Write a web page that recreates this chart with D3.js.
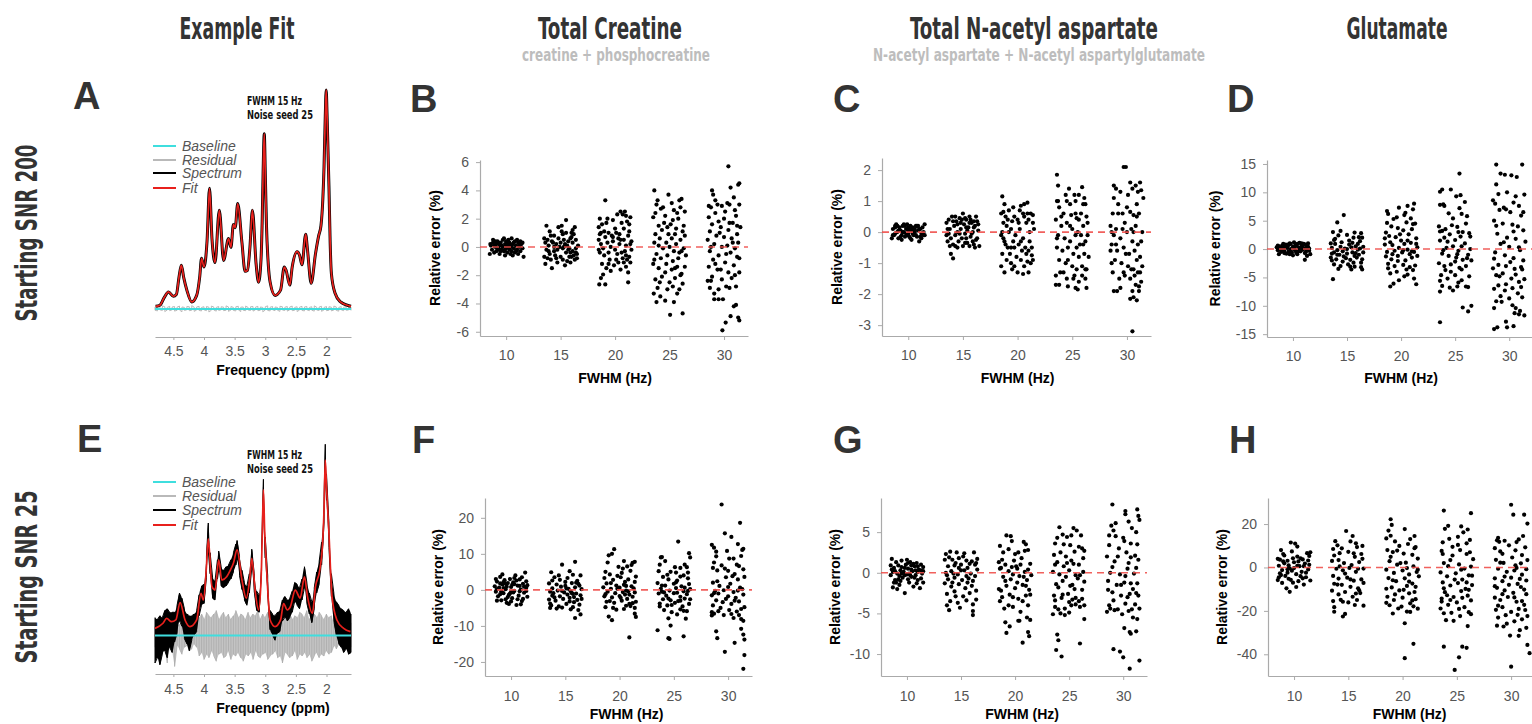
<!DOCTYPE html>
<html>
<head>
<meta charset="utf-8">
<script src="https://cdn.jsdelivr.net/npm/d3@7"></script>
<style>
  body { margin: 0; background: #fff; }
  svg text { font-family: 'Liberation Sans', Arial, sans-serif; }
</style>
</head>
<body>
<svg id="fig" width="1532" height="724"></svg>
<script>
// ---------------------------------------------------------------
// Labels
// ---------------------------------------------------------------
const columnTitles = ["Example Fit", "Total Creatine", "Total N-acetyl aspartate", "Glutamate"];
const columnSubtitles = ["", "creatine + phosphocreatine", "N-acetyl aspartate + N-acetyl aspartylglutamate", ""];
const rowLabels = ["Starting SNR 200", "Starting SNR 25"];
const panelLetters = ["A", "B", "C", "D", "E", "F", "G", "H"];
const fitNote = ["FWHM 15 Hz", "Noise seed 25"];
const legendLabels = ["Baseline", "Residual", "Spectrum", "Fit"];

// ---------------------------------------------------------------
// Example spectra (ppm, intensity; 2.0 ppm peak of the fit = 100)
// ---------------------------------------------------------------
const ppmTicks = [4.5, 4, 3.5, 3, 2.5, 2];

const fitSnr200 = [[4.79,1],[4.72,1.5],[4.65,5],[4.58,7.6],[4.50,5.6],[4.45,6.5],[4.41,14],[4.37,19.8],[4.33,14],[4.28,8.4],[4.20,3],[4.12,6],[4.07,14.5],[4.04,23],[4.00,19],[3.95,31],[3.91,55],[3.87,32],[3.82,21],[3.75,45],[3.68,22],[3.60,32],[3.56,28],[3.52,38.5],[3.49,37],[3.45,48],[3.38,30],[3.33,17],[3.29,17.5],[3.25,28],[3.21,45],[3.15,20.6],[3.11,12],[3.07,22],[3.05,40],[3.035,62],[3.016,80],[2.998,60],[2.98,38],[2.95,20],[2.92,12],[2.84,6],[2.75,8.4],[2.69,19],[2.66,17.5],[2.60,10.7],[2.56,19],[2.48,26],[2.44,24.4],[2.40,20],[2.34,34],[2.31,26.7],[2.25,11.5],[2.18,25],[2.13,33],[2.09,38],[2.06,50],[2.04,65],[2.02,88],[2.005,100],[1.99,88],[1.96,56],[1.94,30],[1.92,16],[1.86,7],[1.77,3],[1.66,1.5],[1.60,1]];

// residual of the SNR 200 fit, sampled every 0.04 ppm from 4.80 to 1.60
const residualSnr200Hi = [0.7,0.9,0.6,1.2,0.8,0.5,1.0,0.7,0.9,0.6,1.1,0.7,0.5,0.9,0.8,1.3,0.6,0.7,1.0,0.5,0.8,0.9,0.6,1.1,0.7,0.5,0.9,0.8,0.6,1.2,0.7,0.9,0.5,0.8,1.0,0.6,0.7,1.1,0.5,0.8,0.9,0.6,1.0,0.7,0.5,0.8,1.2,0.6,0.9,0.7,0.5,1.0,0.8,0.6,0.9,0.7,1.1,0.5,0.8,0.6,1.0,0.7,0.9,0.5,0.8,1.2,0.6,0.7,1.0,0.5,0.9,0.8,0.6,1.1,0.7,0.5,0.9,0.6,0.8,0.7,0.6];
const residualSnr200Lo = [-0.8,-1.1,-0.6,-0.9,-1.4,-0.7,-1.0,-0.6,-1.2,-0.8,-0.7,-1.5,-0.9,-0.6,-1.0,-0.8,-1.3,-0.7,-0.9,-1.1,-0.6,-1.0,-1.6,-0.8,-0.7,-1.2,-0.9,-0.6,-1.0,-0.8,-1.3,-0.7,-0.9,-1.1,-0.6,-1.4,-0.8,-1.0,-0.7,-0.9,-1.2,-0.6,-1.0,-0.8,-1.5,-0.7,-0.9,-1.1,-0.6,-1.0,-0.8,-1.3,-0.7,-0.9,-1.2,-0.6,-1.0,-0.8,-1.4,-0.7,-0.9,-1.1,-0.6,-1.0,-0.8,-1.2,-0.7,-0.9,-1.3,-0.6,-1.0,-0.8,-1.1,-0.7,-0.9,-1.2,-0.6,-1.0,-0.8,-0.7,-0.9];

const fitSnr25 = [[4.80,3.8],[4.67,6.7],[4.61,9.5],[4.53,7.6],[4.46,8.6],[4.39,18.5],[4.31,8.6],[4.23,4.8],[4.12,8.6],[4.05,23.8],[4.01,20],[3.96,39],[3.93,55],[3.87,27.6],[3.82,25.7],[3.76,42.9],[3.71,31.4],[3.63,33.3],[3.57,37.1],[3.52,41],[3.46,48.6],[3.38,31.4],[3.31,21],[3.25,33.3],[3.22,43.8],[3.16,23.8],[3.11,14.3],[3.07,30],[3.05,55],[3.03,82.9],[3.01,60],[2.98,39],[2.92,8.6],[2.84,4.8],[2.75,8.6],[2.70,18],[2.64,14.3],[2.59,16.2],[2.51,25.7],[2.45,21.9],[2.43,21],[2.36,33.3],[2.31,21.9],[2.23,12.4],[2.18,27.6],[2.11,37.1],[2.06,54.3],[2.04,72],[2.02,100],[2.00,85],[1.96,58],[1.91,21.9],[1.83,8.6],[1.72,3.8],[1.61,1.9]];

// noisy SNR 25 spectrum: [ppm, lower edge, upper edge]
const spectrumSnr25 = [[4.80,-16,10],[4.76,-13,9],[4.72,-17,11],[4.68,-11,10],[4.64,-9,14],[4.60,-13,15],[4.56,-7,13],[4.52,-10,13],[4.48,-4,13],[4.44,1,17],[4.40,8,24],[4.36,5,21],[4.32,-2,15],[4.28,-5,12],[4.24,-9,11],[4.20,-3,11],[4.16,0,12],[4.12,2,14],[4.08,11,23],[4.04,17,28],[4.00,18,29],[3.96,33,45],[3.93,48,64],[3.90,35,47],[3.86,21,33],[3.82,20,31],[3.78,32,43],[3.76,37,48],[3.72,28,39],[3.68,27,37],[3.64,28,39],[3.60,30,40],[3.56,32,43],[3.52,36,47],[3.48,40,52],[3.46,43,54],[3.42,34,45],[3.38,26,37],[3.34,20,30],[3.30,17,28],[3.26,24,35],[3.22,38,49],[3.18,25,35],[3.14,14,25],[3.10,13,23],[3.06,37,48],[3.03,75,89],[3.00,44,56],[2.96,23,34],[2.92,3,14],[2.88,0,12],[2.84,-3,11],[2.80,1,13],[2.76,2,14],[2.72,8,20],[2.68,10,22],[2.64,8,20],[2.60,10,21],[2.56,13,25],[2.52,19,30],[2.48,17,29],[2.44,15,27],[2.40,20,32],[2.36,27,39],[2.32,18,30],[2.28,12,24],[2.24,7,19],[2.20,15,27],[2.16,24,36],[2.12,29,42],[2.08,40,53],[2.04,64,79],[2.02,92,109],[2.00,77,92],[1.96,50,64],[1.92,22,35],[1.88,8,24],[1.84,0,19],[1.80,-5,17],[1.76,-7,15],[1.72,-10,14],[1.68,-8,13],[1.64,-11,15],[1.60,-10,12]];

// residual of the SNR 25 fit, sampled every 0.04 ppm from 4.80 to 1.60
const residualSnr25Hi = [5,7,4,6,8,5,6,4,7,5,6,8,4,6,5,7,5,6,10,12,9,13,11,10,12,14,9,11,13,10,12,9,11,14,10,12,11,9,13,10,12,11,14,9,12,10,13,11,10,12,9,14,11,10,13,12,9,11,10,13,12,10,14,9,11,12,10,13,11,9,12,10,11,7,5,8,6,7,5,6,7];
const residualSnr25Lo = [-7,-6,-10,-8,-5,-16,-7,-9,-18,-6,-8,-11,-7,-6,-9,-8,-5,-7,-12,-10,-14,-11,-13,-9,-12,-15,-11,-10,-13,-12,-9,-14,-11,-12,-10,-13,-15,-11,-12,-10,-14,-9,-12,-13,-11,-10,-14,-12,-11,-9,-13,-12,-16,-10,-11,-13,-12,-9,-14,-11,-12,-10,-13,-11,-15,-12,-10,-13,-11,-12,-9,-11,-10,-6,-8,-5,-7,-9,-6,-8,-7];

// ---------------------------------------------------------------
// Relative errors (%) per FWHM level: [jitter (Hz), error]
// ---------------------------------------------------------------
const fwhmLevels = [10, 15, 20, 25, 30];

const tcrTicks200 = [-6, -4, -2, 0, 2, 4, 6];
const tcrSnr200 = [
  [[-1.4,0.1],[-1.3,-0.2],[-1.2,0.3],[-1.1,-0.4],[-1.0,0.0],[-0.9,0.2],[-0.9,-0.3],[-0.8,0.4],[-0.7,-0.1],[-0.6,0.1],[-0.6,-0.5],[-0.5,0.3],[-0.4,-0.2],[-0.3,0.5],[-0.3,0.0],[-0.2,-0.3],[-0.1,0.2],[0.0,-0.1],[0.0,0.4],[0.1,-0.4],[0.2,0.1],[0.3,-0.2],[0.3,0.3],[0.4,0.0],[0.5,0.6],[0.5,-0.3],[0.6,0.2],[0.7,-0.1],[0.8,0.4],[0.8,-0.4],[0.9,0.1],[1.0,-0.2],[1.1,0.3],[1.2,0.0],[1.3,-0.3],[1.4,0.2],[1.5,-0.1],[1.6,-0.7],[-1.5,-0.5],[-0.2,0.6],[0.6,-0.6],[1.0,0.5],[-0.8,-0.1],[0.2,0.5],[-0.5,-0.3],[1.3,0.4],[-1.2,0.5],[0.4,-0.5],[-0.1,-0.6],[1.1,-0.5]],
  [[-1.3,1.5],[0.1,1.5],[0.5,1.9],[-0.2,1.4],[1.3,1.4],[1.0,1.0],[1.1,1.2],[-0.9,0.8],[-0.6,0.8],[0.2,0.9],[0.5,1.0],[0.9,0.6],[-1.5,0.6],[-1.2,0.5],[-0.7,0.3],[-0.4,0.2],[0.0,0.3],[0.4,0.2],[0.8,-0.1],[1.1,-0.3],[1.4,-0.4],[1.5,-0.5],[1.0,-0.7],[0.5,-0.4],[-1.3,-0.2],[-1.0,-0.5],[-0.6,-0.3],[-1.5,-0.7],[-1.4,-1.2],[-0.8,-1.5],[-0.3,-1.1],[0.4,-1.3],[0.9,-1.1],[1.3,-0.9],[1.5,-0.8],[0.2,-0.9],[-0.9,-0.9],[0.0,-0.7],[0.8,-0.7],[1.1,0.3],[-0.6,0.0],[-1.1,0.1],[-0.3,-0.2],[0.2,-0.1],[1.6,0.1],[1.4,0.5],[-1.0,1.1],[0.7,0.4],[-0.2,0.6],[1.2,-0.6],[0.6,-1.0],[-1.2,-0.8],[0.3,0.0],[-0.5,-0.6],[1.0,0.7]],
  [[-0.9,3.3],[-1.45,-2.65],[-0.9,-2.65],[1.2,-2.5],[-1.3,-2.2],[-1.1,-1.95],[-1.4,2.0],[-1.2,1.6],[-1.5,1.4],[-0.8,1.7],[-0.2,1.9],[0.2,2.3],[0.5,2.5],[0.7,2.3],[0.9,2.5],[1.1,1.8],[1.3,1.6],[1.4,2.1],[-1.0,1.1],[-0.6,1.0],[-0.3,0.8],[0.1,1.0],[0.4,0.9],[0.3,0.6],[0.8,0.5],[1.2,0.8],[1.5,0.4],[-1.5,0.5],[-1.3,0.2],[-0.7,0.3],[-0.4,0.0],[0.0,-0.2],[0.6,-0.4],[1.0,-0.6],[1.3,-0.7],[1.1,-0.9],[0.7,-0.8],[-1.4,-0.4],[-1.0,-0.6],[-0.5,-0.9],[0.2,-0.5],[0.9,-0.3],[1.4,-1.1],[-1.2,-1.2],[-0.8,-1.5],[-0.1,-1.3],[0.5,-1.6],[1.0,-1.4],[-0.4,-1.7],[1.2,-1.8],[-1.5,-0.2],[0.4,0.2],[-0.2,0.4],[0.8,1.3],[-0.6,-0.4],[1.5,-0.2],[0.1,-0.9],[-0.9,0.7]],
  [[-1.4,4.0],[-0.1,3.7],[1.1,3.4],[0.9,3.3],[-1.2,3.0],[-0.8,2.7],[-0.6,2.8],[0.4,2.6],[1.0,2.8],[-1.3,2.4],[-0.4,2.2],[0.3,1.9],[0.8,2.0],[1.3,1.5],[-1.5,2.1],[-1.0,1.5],[-0.7,1.2],[-0.2,1.4],[0.1,1.6],[0.6,1.3],[1.2,1.1],[1.4,0.8],[-1.3,0.9],[-0.9,0.6],[-0.3,0.3],[0.2,0.6],[0.5,0.9],[1.0,0.5],[-1.4,0.3],[-0.6,-0.1],[0.0,0.0],[0.4,-0.3],[0.9,-0.4],[1.3,-0.1],[-1.2,-0.5],[-0.8,-0.8],[-0.2,-0.6],[0.3,-1.0],[0.8,-0.8],[1.5,-0.6],[-1.5,-1.2],[-1.0,-1.5],[-0.4,-1.8],[0.2,-1.6],[0.7,-1.4],[1.1,-1.9],[-1.3,-2.3],[-0.7,-2.1],[0.0,-2.5],[0.5,-2.2],[1.2,-2.6],[-1.1,-2.9],[-0.2,-3.0],[0.9,-3.0],[-0.85,-3.5],[-0.4,-3.8],[0.4,-3.9],[0.05,-4.8],[1.2,-4.7],[-1.45,-3.3]],
  [[0.4,5.7],[1.4,4.5],[1.3,4.4],[0.6,4.2],[-1.1,4.0],[-1.0,3.7],[0.3,3.1],[0.5,3.0],[-0.6,3.0],[-0.2,2.9],[1.4,3.0],[-1.2,2.8],[-0.8,2.4],[0.1,2.5],[1.1,2.2],[-1.4,2.1],[-0.5,1.8],[0.8,1.7],[1.2,1.5],[-1.1,1.6],[-0.3,1.4],[0.4,1.2],[1.5,1.4],[-1.3,1.1],[-0.7,0.8],[0.0,0.7],[0.7,0.6],[1.3,0.3],[-1.5,0.5],[-0.9,0.2],[-0.2,0.0],[0.3,0.1],[1.0,-0.1],[-1.3,-0.3],[-0.5,-0.6],[0.6,-0.4],[1.2,-0.7],[-1.0,-0.9],[0.1,-1.1],[0.9,-1.3],[-1.4,-1.4],[-0.6,-1.6],[0.4,-1.8],[1.4,-1.8],[-1.1,-2.1],[-0.2,-2.3],[0.7,-2.2],[-1.5,-2.4],[-1.2,-2.4],[0.2,-2.8],[1.1,-2.8],[-0.5,-3.0],[-0.5,-3.7],[-0.1,-3.7],[1.1,-4.1],[0.6,-4.9],[1.4,-5.2],[0.15,-5.35],[-0.15,-5.9],[-0.9,-3.3]]
];
const tcrSnr200More = [
  [[-1.45,0.2],[-1.1,0.1],[-0.7,0.3],[-0.4,0.1],[-0.1,-0.2],[0.1,0.3],[0.5,0.1],[0.7,0.3],[0.9,-0.3],[1.2,0.2],[-0.6,-0.2],[0.3,-0.1],[1.5,0.3],[-1.0,0.4],[0.0,0.1]],
  [[-1.4,0.3],[-0.8,0.4],[-0.1,0.0],[0.3,0.5],[0.6,0.1],[0.9,-0.4],[1.2,0.9],[-0.4,-0.8],[-1.1,-0.3],[0.7,-0.2],[1.4,-0.1],[0.1,1.1]],
  [[-1.3,1.0],[-0.7,2.0],[0.0,1.3],[0.6,1.7],[1.3,1.1],[-1.1,-0.1],[-0.2,0.7],[0.5,0.5],[1.0,0.1],[-0.6,-1.2],[0.3,-1.1],[0.8,-1.1],[1.4,0.2],[-1.4,0.9],[1.0,2.2]],
  [[-1.1,3.3],[0.2,3.1],[1.4,2.5],[-0.5,1.7],[0.7,2.4],[-1.0,0.1],[-0.1,0.9],[0.6,0.2],[1.1,-0.3],[-1.4,-0.9],[-0.3,-1.2],[0.5,-1.5],[1.4,-1.4],[-0.9,-2.5],[0.3,-2.8],[1.0,-2.0],[-1.2,-3.9],[0.7,-3.3]],
  [[-0.8,3.3],[0.9,3.5],[-1.4,2.9],[0.0,2.0],[1.0,2.6],[-0.4,1.0],[0.5,1.7],[1.2,0.9],[-1.2,0.0],[0.2,-0.5],[0.8,0.3],[-0.8,-1.2],[1.4,-0.8],[-0.3,-1.6],[1.0,-2.0],[-1.3,-2.9],[0.5,-2.9],[-0.9,-3.7],[0.9,-4.2],[1.3,-5.0]]
];

const naaTicks200 = [-3, -2, -1, 0, 1, 2];
const naaSnr200 = [
  [[-1.4,0.1],[-1.3,-0.1],[-1.2,0.2],[-1.0,0.0],[-0.9,-0.2],[-0.8,0.15],[-0.7,0.05],[-0.6,-0.1],[-0.5,0.2],[-0.4,0.0],[-0.3,-0.15],[-0.2,0.1],[-0.1,0.25],[0.0,-0.05],[0.1,0.1],[0.2,-0.2],[0.3,0.05],[0.4,0.15],[0.5,-0.1],[0.6,0.0],[0.7,0.2],[0.8,-0.15],[0.9,0.05],[1.0,-0.3],[1.1,0.1],[1.2,-0.05],[1.3,0.15],[1.4,0.0],[1.5,0.25],[-1.5,-0.2],[-1.1,0.25],[-0.3,0.2],[0.3,-0.25],[0.8,0.2],[1.2,-0.2],[-0.6,-0.25],[0.1,-0.15],[-0.9,0.05],[0.6,0.1],[1.4,-0.1],[-0.2,-0.05],[0.4,-0.05],[1.0,0.1],[-1.2,-0.05],[0.0,0.15]],
  [[-1.5,0.3],[-1.3,0.4],[-1.2,0.1],[-1.1,-0.2],[-1.0,0.5],[-0.9,-0.4],[-0.8,0.2],[-0.7,-0.1],[-0.6,0.35],[-0.5,0.0],[-0.4,-0.3],[-0.3,0.45],[-0.2,0.1],[-0.1,-0.2],[0.0,0.6],[0.1,0.25],[0.2,-0.05],[0.3,0.4],[0.4,-0.35],[0.5,0.15],[0.6,0.5],[0.7,-0.15],[0.8,0.3],[0.9,0.0],[1.0,-0.4],[1.1,0.2],[1.2,-0.25],[1.3,0.35],[1.4,0.05],[1.5,-0.45],[-1.4,-0.3],[-1.1,-0.7],[-0.9,-0.85],[-0.5,-0.5],[0.0,-0.45],[0.4,0.05],[0.7,0.4],[1.2,0.5],[-0.2,0.3],[0.9,-0.3],[-0.7,0.5],[0.2,0.45],[1.4,0.25],[-1.2,-0.45],[0.6,-0.45],[-0.3,-0.05],[1.0,0.15],[-1.5,-0.1],[0.3,-0.2],[0.8,-0.05]],
  [[-1.4,1.15],[-1.2,0.9],[-1.5,0.6],[-1.1,0.5],[-0.8,0.7],[-0.5,0.35],[-0.3,0.5],[0.0,0.4],[0.3,0.85],[0.6,0.9],[0.9,0.95],[1.2,0.6],[1.4,0.3],[-1.3,0.3],[-1.0,0.2],[-0.6,0.1],[-0.2,-0.1],[0.2,0.1],[0.5,-0.2],[0.8,0.3],[1.1,0.0],[1.5,0.1],[-1.5,-0.1],[-1.2,-0.3],[-0.9,-0.5],[-0.4,-0.3],[0.1,-0.4],[0.4,-0.6],[0.7,-0.5],[1.0,-0.6],[1.3,-0.5],[-1.4,-0.7],[-1.0,-0.9],[-0.7,-0.7],[-0.1,-0.8],[0.3,-0.9],[0.6,-1.1],[1.2,-1.0],[-1.5,-1.1],[-1.2,-1.3],[-0.5,-1.2],[0.0,-1.3],[0.5,-1.35],[1.0,-1.3],[1.4,-0.9],[-0.8,0.0],[0.6,0.5],[-0.3,-0.5],[1.1,-0.3],[-1.3,-0.2],[0.9,0.6],[-0.6,-1.0],[0.2,0.7]],
  [[-1.4,1.85],[-0.3,1.4],[0.6,1.2],[0.9,1.45],[1.1,1.1],[-1.3,1.0],[-0.6,1.2],[0.2,1.2],[-1.2,0.8],[-0.8,0.6],[-0.1,0.55],[0.4,0.45],[0.8,0.6],[1.3,0.5],[-1.5,0.4],[-1.0,0.2],[-0.5,0.3],[0.0,0.1],[0.5,0.0],[1.0,0.2],[1.4,-0.1],[-1.3,-0.1],[-0.7,-0.2],[-0.2,-0.3],[0.3,-0.1],[0.7,-0.4],[1.2,-0.3],[-1.4,-0.5],[-0.9,-0.6],[-0.4,-0.5],[0.1,-0.7],[0.6,-0.8],[1.1,-0.7],[1.5,-0.8],[-1.2,-0.9],[-0.6,-1.0],[0.0,-1.1],[0.4,-1.2],[0.9,-1.1],[1.3,-1.2],[-1.5,-1.4],[-1.1,-1.3],[-0.5,-1.5],[0.2,-1.4],[0.6,-1.6],[1.2,-1.5],[-1.2,-1.7],[-0.4,-1.75],[0.5,-1.85],[1.3,-1.8],[-1.4,1.0],[0.8,-0.1],[-0.2,0.9],[1.0,0.9],[0.3,0.6]],
  [[-0.3,2.1],[-0.1,2.1],[-1.2,1.5],[-1.0,1.4],[0.3,1.6],[0.8,1.5],[1.3,1.35],[1.0,1.3],[1.5,1.1],[-0.6,1.3],[0.1,1.2],[-1.3,0.6],[-0.8,0.6],[-0.4,0.6],[0.3,0.65],[0.6,0.55],[1.1,0.6],[-1.5,0.2],[-1.0,0.1],[-0.2,0.3],[0.4,0.1],[0.8,0.2],[1.4,0.0],[-1.2,-0.1],[-0.6,-0.2],[0.0,0.0],[0.5,-0.3],[1.0,-0.4],[-1.4,-0.4],[-0.9,-0.6],[-0.3,-0.5],[0.2,-0.7],[0.7,-0.6],[1.2,-0.8],[-1.1,-0.9],[-0.5,-1.0],[0.1,-1.1],[0.6,-1.2],[1.0,-1.3],[1.4,-1.1],[-1.3,-1.3],[-0.7,-1.5],[0.3,-1.5],[0.8,-1.7],[1.3,-1.6],[-1.2,-1.9],[-0.9,-1.9],[0.5,-1.9],[1.1,-1.75],[0.3,-2.15],[0.9,-2.2],[0.6,-2.1],[0.5,-3.2],[-0.2,-1.4],[-1.5,-0.6],[0.9,0.9]]
];
const naaSnr200More = [
  [[-1.4,-0.1],[-1.0,0.2],[-0.7,-0.15],[-0.4,0.25],[-0.1,-0.1],[0.2,0.2],[0.5,0.05],[0.7,-0.1],[0.9,0.2],[1.1,-0.15],[1.3,-0.05],[-0.5,0.0],[0.0,0.05],[1.5,-0.1],[-1.2,0.15]],
  [[-1.3,-0.05],[-0.9,0.35],[-0.5,0.25],[-0.1,0.4],[0.3,0.15],[0.6,0.3],[1.0,0.35],[1.3,-0.2],[-0.7,-0.45],[0.2,-0.35],[1.1,-0.5],[-1.4,0.1]],
  [[-1.3,0.65],[-0.9,0.4],[-0.4,0.8],[0.1,0.3],[0.5,0.6],[1.0,0.4],[1.4,0.55],[-1.1,-0.4],[-0.6,-0.5],[0.3,-0.3],[0.8,-0.7],[1.3,-0.75],[-0.3,-1.1],[0.9,-0.95],[-1.4,0.0]],
  [[-1.3,1.5],[-0.5,1.0],[0.3,1.0],[1.2,0.9],[-1.0,0.5],[-0.2,0.2],[0.6,0.4],[1.4,0.3],[-1.4,-0.2],[-0.4,-0.9],[0.4,-0.5],[1.0,-0.4],[-0.8,-1.3],[0.1,-1.5],[0.9,-1.4],[-1.5,-1.7],[0.3,-1.8],[1.2,-1.2]],
  [[-1.2,1.1],[0.5,1.4],[1.2,1.6],[-0.8,0.9],[0.0,0.8],[0.9,0.5],[-1.4,0.0],[-0.4,0.1],[0.6,0.0],[1.3,-0.3],[-1.0,-0.4],[-0.1,-0.7],[0.9,-0.9],[-1.4,-1.0],[-0.3,-1.3],[0.4,-1.2],[1.2,-1.3],[-0.6,-1.8],[0.7,-1.4],[1.1,-1.9]]
];

const gluTicks200 = [-15, -10, -5, 0, 5, 10, 15];
const gluSnr200 = [
  [[-1.5,0.3],[-1.4,-0.2],[-1.3,0.5],[-1.2,0.0],[-1.1,-0.5],[-1.0,0.6],[-0.9,0.1],[-0.8,-0.3],[-0.7,0.8],[-0.6,-0.8],[-0.5,0.2],[-0.4,-0.4],[-0.3,1.0],[-0.2,0.0],[-0.1,-0.6],[0.0,0.4],[0.1,1.2],[0.2,-0.2],[0.3,0.7],[0.4,-0.9],[0.5,0.3],[0.6,1.1],[0.7,-0.4],[0.8,0.5],[0.9,-0.1],[1.0,0.9],[1.1,-0.7],[1.2,0.2],[1.3,-1.2],[1.4,0.4],[1.5,-0.3],[1.6,-0.9],[-1.3,-0.9],[-0.8,0.5],[-0.2,0.9],[0.3,-0.6],[0.8,1.0],[1.2,-0.5],[-0.6,0.3],[0.0,-1.1],[0.5,-0.4],[1.0,0.1],[-1.0,-0.3],[0.2,0.6],[1.4,1.0],[-0.4,0.7],[1.1,-1.9]],
  [[-0.3,6.0],[-0.9,4.7],[-1.3,3.0],[-0.8,2.4],[-0.6,3.2],[0.0,2.5],[0.6,2.0],[1.3,2.8],[1.4,2.0],[0.7,2.9],[-1.5,1.0],[-1.1,0.9],[-0.5,1.2],[0.2,0.8],[0.8,0.5],[1.2,1.4],[-1.4,0.2],[-0.9,-0.2],[-0.2,0.1],[0.4,0.3],[1.0,-0.1],[1.5,0.4],[-1.2,-0.6],[-0.7,-1.0],[0.0,-0.8],[0.5,-0.6],[1.1,-1.0],[-1.5,-1.5],[-1.0,-1.8],[-0.4,-2.2],[0.3,-1.9],[0.9,-1.5],[1.4,-1.8],[-1.2,-2.7],[-0.6,-3.0],[0.1,-2.7],[0.7,-3.1],[1.3,-3.2],[-0.8,-3.5],[0.4,-3.6],[1.4,-3.6],[-1.3,-5.3],[-0.3,-1.3],[0.6,-2.4],[-1.1,1.8],[0.2,1.5],[1.0,0.9],[-0.4,-0.4],[0.8,-0.7],[-1.4,-0.8],[1.2,0.1]],
  [[1.2,8.0],[1.1,7.0],[0.6,7.6],[-0.2,7.3],[-1.3,6.7],[-1.2,6.2],[0.4,6.4],[-0.7,5.3],[0.9,5.4],[0.5,4.7],[1.3,4.5],[-0.9,4.0],[-1.4,2.9],[-0.3,3.7],[0.2,3.3],[1.0,3.5],[-1.1,2.3],[-0.5,2.1],[0.0,1.5],[0.7,2.6],[1.4,1.9],[-1.5,0.8],[-0.8,0.7],[-0.2,0.2],[0.3,0.9],[0.9,1.1],[1.5,0.3],[-1.3,-0.5],[-0.6,-0.3],[0.1,-0.6],[0.6,-0.1],[1.2,-0.5],[-1.4,-1.3],[-0.9,-1.8],[-0.3,-1.2],[0.4,-2.0],[1.0,-1.5],[1.5,-1.2],[-1.2,-2.6],[-0.6,-3.0],[0.2,-2.8],[0.8,-3.2],[1.3,-2.9],[-1.0,-4.3],[-0.4,-4.0],[0.3,-4.8],[1.2,-5.2],[-0.7,-6.1],[-0.2,-5.5],[1.4,-6.2],[-1.0,-6.6],[0.5,-3.6],[-1.5,1.9],[0.8,-0.9]],
  [[0.4,13.3],[-0.4,10.5],[-1.2,10.5],[-1.4,10.1],[0.1,9.3],[-1.4,7.8],[-1.0,7.6],[0.9,8.3],[0.4,7.2],[-0.6,6.3],[0.6,6.2],[1.0,4.5],[-1.5,4.0],[-1.2,3.2],[-0.3,4.2],[0.2,3.9],[0.7,3.0],[1.3,2.8],[-1.0,2.0],[-0.5,2.6],[0.0,1.6],[0.5,2.2],[-1.4,1.5],[0.9,1.0],[1.4,0.0],[-0.8,0.2],[-0.2,0.5],[0.3,-0.3],[-1.2,-0.8],[-0.6,-1.2],[0.1,-1.5],[0.7,-1.9],[1.2,-1.0],[-1.5,-2.5],[-1.0,-3.0],[-0.4,-2.7],[0.4,-3.3],[1.0,-3.0],[1.5,-2.0],[-1.3,-4.6],[-0.7,-5.2],[0.0,-4.6],[0.6,-5.5],[1.3,-4.8],[-1.2,-6.5],[-0.5,-6.8],[0.2,-6.6],[1.0,-6.6],[-1.4,-7.5],[-0.2,-7.3],[1.5,-10.0],[-1.4,-12.9],[1.2,-11.0],[0.7,-10.3],[-0.9,3.5],[0.2,-0.9]],
  [[-1.2,14.9],[1.2,14.9],[-0.8,13.3],[-0.4,13.1],[0.7,12.7],[-1.2,11.4],[-0.2,10.0],[1.4,9.6],[-1.5,8.6],[-1.3,8.0],[0.4,8.2],[0.9,7.6],[-0.9,6.9],[-0.5,7.3],[0.1,6.5],[1.3,6.5],[-1.4,5.0],[-0.6,4.5],[0.3,4.3],[0.8,4.0],[-1.1,2.7],[-0.2,2.0],[0.6,1.8],[1.5,1.3],[-0.8,0.9],[0.0,0.4],[1.0,-0.2],[-1.3,-0.6],[-0.4,-1.1],[0.4,-1.6],[1.3,-2.0],[-1.0,-2.8],[-0.3,-3.0],[0.5,-3.5],[1.1,-3.2],[-1.5,-3.4],[-1.2,-4.6],[-0.6,-4.3],[0.2,-5.2],[0.9,-5.8],[1.4,-5.3],[-1.0,-6.4],[-0.3,-6.2],[0.3,-6.9],[0.8,-7.8],[-1.4,-7.0],[-0.8,-8.3],[0.0,-8.7],[1.2,-8.5],[-0.7,-9.3],[0.6,-10.4],[1.0,-10.9],[-1.4,-10.4],[0.5,-11.3],[0.9,-11.5],[-1.4,-14.1],[-1.1,-13.8],[-0.2,-13.8],[-0.3,-12.8],[0.4,-13.6]]
];
const gluSnr200More = [
  [[-1.4,0.6],[-1.1,0.2],[-0.8,-0.7],[-0.5,0.8],[-0.2,-0.4],[0.1,0.3],[0.4,0.9],[0.6,-0.2],[0.9,0.6],[1.2,0.8],[1.5,0.1],[-0.3,-0.9],[0.7,0.2],[-0.9,0.9],[1.3,0.0]],
  [[-1.2,1.6],[-0.6,0.4],[0.0,0.0],[0.5,1.1],[1.1,2.1],[1.5,-0.6],[-0.9,-1.0],[-0.1,-1.6],[0.7,-1.2],[1.3,-2.4],[-1.4,-2.0],[0.3,-3.1]],
  [[-1.3,4.6],[-0.4,5.6],[0.3,6.0],[1.1,4.4],[-1.0,1.2],[-0.1,2.6],[0.6,1.5],[1.4,0.9],[-0.8,-0.9],[0.2,-0.2],[1.0,-0.4],[-1.2,-3.4],[-0.3,-2.1],[0.6,-4.5],[1.1,-3.7]],
  [[-1.1,7.9],[0.5,9.5],[-0.2,5.4],[1.1,5.8],[-1.4,3.1],[0.3,3.0],[1.4,2.2],[-0.7,1.3],[0.6,0.5],[-1.1,-0.2],[0.0,-2.2],[1.1,-1.6],[-0.9,-3.7],[0.6,-3.6],[-1.4,-5.6],[0.3,-5.9],[1.2,-6.7],[-0.4,-4.0]],
  [[0.2,13.0],[-1.0,9.7],[0.6,9.3],[-0.3,7.0],[1.1,5.9],[-1.2,4.1],[0.4,3.1],[1.3,3.3],[-0.5,1.2],[0.9,0.3],[-1.4,-1.7],[0.1,-2.3],[1.2,-3.6],[-0.9,-4.8],[0.6,-4.5],[-0.4,-7.3],[1.1,-6.7],[-1.2,-9.2],[0.3,-9.9],[1.4,-11.7]]
];

const tcrTicks25 = [-20, -10, 0, 10, 20];
const tcrSnr25 = [
  [[-1.5,1.0],[-1.4,-0.5],[-1.3,2.3],[-1.2,-1.8],[-1.1,0.6],[-1.0,3.6],[-0.9,-2.9],[-0.8,1.5],[-0.7,-0.9],[-0.6,2.7],[-0.5,0.2],[-0.4,-3.6],[-0.3,1.9],[-0.2,-1.4],[-0.1,3.0],[0.0,0.8],[0.1,-2.3],[0.2,2.1],[0.3,-0.3],[0.4,4.0],[0.5,-4.2],[0.6,1.2],[0.7,-1.6],[0.8,2.9],[0.9,0.1],[1.0,-3.1],[1.1,1.7],[1.2,-0.8],[1.3,4.8],[1.4,0.6],[1.5,-1.9],[-1.3,-3.0],[-0.8,4.3],[-0.2,-3.9],[0.3,3.3],[0.9,-4.0],[1.4,2.4],[-1.0,-1.2],[0.1,1.4],[0.6,-2.6],[-0.5,1.7],[1.2,0.9],[-1.4,3.0],[0.0,-0.6],[0.8,-0.4],[-0.7,0.5],[1.5,1.3],[-0.3,-2.0]],
  [[-0.3,7.0],[0.9,7.8],[0.4,5.2],[-1.3,4.9],[0.7,4.2],[1.4,4.0],[-1.0,3.5],[-0.5,2.8],[0.2,3.3],[1.1,2.5],[-1.5,1.8],[-0.8,1.5],[0.0,1.1],[0.6,1.9],[1.3,1.2],[-1.2,0.4],[-0.4,0.9],[0.3,0.3],[0.9,0.7],[1.5,0.2],[-1.4,-0.5],[-0.7,-0.2],[-0.1,-0.7],[0.5,-0.4],[1.0,-1.0],[-1.2,-1.6],[-0.5,-1.8],[0.2,-1.3],[0.8,-2.0],[1.4,-1.5],[-1.5,-2.7],[-0.9,-3.0],[-0.2,-2.5],[0.4,-3.2],[1.1,-2.8],[-1.3,-4.3],[-0.6,-4.6],[0.1,-3.9],[0.7,-4.8],[1.3,-4.1],[-1.4,-5.0],[-0.8,-5.2],[0.5,-5.4],[1.4,-6.8],[0.9,-7.8],[1.2,-5.6],[-0.3,-4.9],[0.0,2.2],[-1.1,-0.9],[0.6,-0.9]],
  [[-0.5,11.3],[-1.0,9.6],[-0.7,10.0],[1.4,7.8],[1.2,7.5],[0.4,8.0],[-0.1,6.4],[0.7,6.5],[-1.3,5.0],[-0.9,4.3],[0.2,4.7],[1.0,5.3],[-1.4,3.3],[-0.6,2.8],[0.1,3.5],[0.8,2.9],[1.5,3.7],[-1.2,1.8],[-0.3,1.2],[0.5,2.2],[1.1,1.0],[-1.5,0.7],[-0.8,0.3],[0.0,0.6],[0.6,-0.2],[1.3,0.4],[-1.1,-0.5],[-0.4,-0.9],[0.3,-0.6],[0.9,-1.3],[1.4,-0.7],[-1.4,-1.8],[-0.7,-2.1],[0.0,-1.7],[0.7,-2.5],[1.2,-1.9],[-1.2,-3.3],[-0.5,-3.6],[0.2,-3.0],[0.9,-3.9],[1.5,-3.3],[-1.3,-4.8],[-0.6,-5.0],[0.4,-5.3],[1.0,-4.5],[-1.0,-7.4],[-0.7,-8.4],[1.5,-7.5],[1.4,-6.6],[0.9,-13.2],[0.1,-2.2],[-0.2,3.9],[0.6,1.1]],
  [[0.4,13.4],[-1.1,9.1],[1.4,10.2],[1.5,9.0],[-1.3,7.0],[-0.8,8.0],[1.2,6.3],[0.6,6.1],[-1.4,5.2],[-0.3,5.0],[0.2,4.8],[0.9,4.0],[-1.0,3.6],[-0.5,2.9],[0.3,2.6],[1.3,3.2],[-1.5,1.9],[-0.8,1.2],[0.0,1.7],[0.7,1.0],[1.4,1.6],[-1.2,0.3],[-0.4,-0.2],[0.2,0.5],[0.9,-0.4],[1.5,0.2],[-1.4,-1.0],[-0.7,-1.6],[0.0,-0.9],[0.6,-1.9],[1.2,-1.2],[-1.0,-2.6],[-0.3,-2.9],[0.4,-3.1],[1.0,-2.4],[-1.3,-3.8],[-0.6,-4.3],[0.1,-3.6],[0.8,-4.6],[1.4,-3.9],[-0.9,-5.6],[-0.2,-6.2],[0.6,-5.4],[-0.5,-7.9],[1.1,-8.0],[-1.5,-11.2],[-0.5,-13.4],[-0.4,-13.6],[0.9,-12.9],[-0.3,-9.9],[0.3,-6.8],[1.2,-5.9],[-1.1,-0.5]],
  [[-0.6,23.7],[1.1,18.6],[-0.3,15.7],[0.3,14.7],[-1.3,11.7],[-1.5,12.5],[1.3,11.1],[1.4,11.4],[-0.1,10.8],[-1.1,9.3],[0.5,8.7],[1.2,9.4],[-1.3,7.6],[-0.6,6.8],[0.8,7.0],[-1.0,5.4],[0.0,5.3],[1.4,5.7],[-0.2,3.5],[0.4,3.8],[0.9,2.9],[-1.4,2.0],[-0.8,1.1],[0.2,1.7],[1.1,0.6],[-1.2,-0.3],[-0.4,-0.1],[0.5,-0.6],[1.3,0.2],[-1.5,-1.5],[-0.9,-1.0],[0.0,-1.8],[0.7,-2.2],[1.4,-1.3],[-1.1,-2.9],[-0.5,-3.4],[0.3,-3.9],[1.0,-3.2],[-1.4,-4.3],[-0.7,-5.0],[0.1,-5.6],[0.8,-6.0],[1.2,-5.3],[-1.3,-6.6],[-0.4,-7.0],[0.5,-7.8],[1.2,-8.1],[1.4,-8.6],[-1.5,-7.1],[-1.1,-11.5],[-1.0,-13.4],[1.4,-12.4],[1.5,-13.8],[1.5,-18.1],[1.4,-21.9],[-0.3,-17.2],[0.6,-14.7]]
];
const tcrSnr25More = [
  [[-1.3,0.2],[-1.0,1.8],[-0.7,2.1],[-0.4,0.9],[-0.1,-1.0],[0.2,-0.7],[0.5,2.6],[0.8,1.1],[1.1,-2.5],[1.4,-0.3],[-0.9,-0.4],[0.3,1.6],[-0.5,-2.6],[1.0,3.5],[0.0,-3.2]],
  [[-1.2,2.6],[-0.6,4.0],[0.1,0.4],[0.7,-1.1],[1.2,1.7],[-1.0,-2.1],[-0.3,-0.3],[0.4,-2.2],[1.0,2.0],[-1.4,-3.8],[0.8,-3.4],[1.5,-2.5]],
  [[-1.1,7.6],[0.3,5.9],[1.1,6.9],[-0.8,1.9],[0.4,1.4],[1.4,2.2],[-1.3,-1.2],[-0.2,0.3],[0.8,-0.4],[-0.9,-3.1],[0.5,-1.3],[1.2,-3.7],[-0.3,-5.5],[0.6,-4.4],[1.4,-5.0]],
  [[-1.2,9.0],[0.1,6.3],[1.0,7.0],[-0.6,4.2],[0.6,3.7],[1.3,4.8],[-1.1,1.2],[0.2,2.1],[1.0,0.6],[-0.9,-0.7],[0.3,-0.8],[1.3,-0.3],[-0.5,-2.4],[0.6,-3.0],[1.5,-2.6],[-1.3,-4.6],[-0.2,-4.2],[0.9,-5.8]],
  [[0.9,12.7],[-1.1,10.6],[0.1,8.7],[1.0,6.6],[-1.4,6.1],[-0.3,5.9],[0.6,4.4],[1.5,3.6],[-1.0,2.4],[0.0,0.8],[0.9,-0.2],[-1.3,-0.9],[-0.2,-2.5],[0.6,-3.0],[1.5,-4.8],[-0.9,-5.9],[0.3,-6.7],[1.0,-7.0],[-1.5,-6.2],[1.2,-10.8]]
];

const naaTicks25 = [-10, -5, 0, 5];
const naaSnr25 = [
  [[-1.5,-0.3],[-1.4,1.7],[-1.3,-1.8],[-1.2,0.6],[-1.1,-0.9],[-1.0,1.3],[-0.9,-0.1],[-0.8,0.9],[-0.7,-1.5],[-0.6,0.3],[-0.5,1.5],[-0.4,-0.6],[-0.3,0.1],[-0.2,-2.5],[-0.1,1.0],[0.0,-0.2],[0.1,0.5],[0.2,-1.2],[0.3,1.3],[0.4,-0.5],[0.5,0.2],[0.6,-1.7],[0.7,0.8],[0.8,-0.3],[0.9,1.2],[1.0,-0.9],[1.1,0.4],[1.2,-1.9],[1.3,1.0],[1.4,-0.1],[1.5,0.7],[-1.3,0.1],[-0.7,-0.4],[-0.2,0.6],[0.3,-0.3],[0.8,0.3],[1.3,-0.7],[-1.0,-1.2],[0.1,-0.8],[0.6,1.1],[-0.5,-0.1],[1.0,0.1],[-1.5,0.9],[0.4,0.9],[-0.9,-2.0],[1.5,-1.2],[0.0,1.6]],
  [[-1.4,2.3],[-1.0,2.6],[-0.4,2.5],[0.3,2.4],[1.0,1.4],[1.3,1.0],[-1.5,1.6],[-0.8,1.6],[-0.2,1.8],[0.5,1.5],[1.2,2.5],[-1.2,0.8],[-0.6,0.9],[0.0,1.0],[0.6,0.6],[1.4,1.2],[-1.4,0.0],[-0.9,0.2],[-0.3,-0.2],[0.3,0.3],[0.9,-0.1],[1.5,0.4],[-1.2,-0.8],[-0.6,-0.6],[0.1,-0.9],[0.7,-0.7],[1.3,-0.4],[-1.5,-1.3],[-0.9,-1.7],[-0.2,-1.4],[0.4,-1.9],[1.0,-1.6],[-1.3,-2.6],[-0.6,-2.3],[0.2,-2.9],[0.8,-2.5],[1.4,-2.2],[-1.0,-3.5],[-0.3,-3.7],[0.5,-3.4],[1.1,-3.9],[-1.3,-4.0],[-1.1,-4.6],[-0.1,-4.3],[1.1,-4.7],[1.1,-5.2],[1.4,-3.3],[0.0,0.3],[-0.7,-0.1]],
  [[-0.8,4.6],[-0.4,4.5],[-0.3,3.9],[0.8,3.8],[1.0,3.5],[-1.4,3.3],[-0.6,2.9],[0.3,2.5],[1.2,2.8],[-1.5,1.3],[-1.2,1.6],[-0.9,1.0],[-0.1,1.5],[0.6,1.8],[1.4,1.1],[-1.3,0.6],[-0.6,0.2],[0.2,0.5],[0.9,0.1],[-1.1,-0.5],[-0.4,-0.8],[0.4,-0.4],[1.1,-0.9],[1.5,-0.3],[-1.5,-2.0],[-0.8,-1.6],[0.0,-1.9],[0.7,-1.5],[1.3,-2.1],[-1.2,-3.0],[-0.5,-2.7],[0.3,-3.2],[1.0,-2.8],[-1.0,-4.4],[-0.2,-4.2],[0.5,-4.8],[1.2,-4.0],[-0.9,-6.1],[-0.5,-6.6],[0.4,-5.9],[0.3,-5.9],[1.1,-5.5],[1.4,-5.8],[-0.8,-7.4],[0.7,-8.6],[1.3,-7.8],[1.2,-7.3],[-1.4,-3.5],[0.1,0.8],[-0.2,-0.2],[0.8,-0.5]],
  [[-0.9,5.6],[0.4,5.5],[0.7,5.2],[-0.6,4.7],[-0.2,4.4],[1.1,4.6],[-1.3,3.6],[0.1,3.4],[1.2,3.0],[-1.4,2.2],[-0.8,2.5],[-0.3,2.0],[0.5,2.6],[1.4,2.7],[-1.1,1.3],[-0.5,0.8],[0.2,1.5],[0.9,1.0],[-1.5,0.1],[-0.9,-0.2],[0.0,0.3],[0.6,-0.3],[1.3,0.1],[-1.2,-1.4],[-0.6,-1.0],[0.1,-1.6],[0.8,-0.7],[1.4,-1.1],[-1.4,-2.8],[-0.7,-3.1],[-0.1,-2.6],[0.3,-3.3],[0.9,-3.5],[1.2,-3.2],[-1.3,-4.2],[-1.0,-4.5],[-0.4,-4.4],[0.2,-4.0],[0.6,-3.9],[1.0,-4.2],[-1.5,-5.1],[-0.8,-5.0],[0.0,-4.9],[1.4,-5.7],[1.0,-8.7],[-1.1,-7.6],[-1.0,-8.3],[-1.2,-9.5],[-0.7,-10.3],[0.5,-2.0],[-0.2,1.2]],
  [[-1.0,8.4],[0.2,7.6],[0.2,7.2],[1.3,7.8],[1.4,7.0],[1.5,6.5],[-1.1,5.8],[0.8,5.5],[-0.9,5.2],[-0.7,4.5],[0.0,4.3],[0.7,3.6],[-1.3,3.4],[-0.4,3.0],[0.3,2.5],[1.1,2.1],[-1.5,2.0],[-0.8,1.4],[0.5,1.2],[1.4,1.6],[-1.2,0.0],[-0.3,-0.2],[0.4,0.5],[1.0,-0.1],[-1.4,-1.0],[-0.6,-1.5],[0.1,-1.2],[0.9,-2.0],[1.3,-1.3],[-1.0,-2.4],[-0.2,-2.8],[0.6,-2.6],[1.2,-2.5],[-1.3,-4.0],[-1.5,-4.8],[-0.5,-4.5],[0.2,-3.8],[0.5,-4.7],[-0.8,-4.6],[0.9,-5.5],[-0.1,-5.1],[0.1,-6.8],[0.6,-7.3],[1.2,-7.2],[1.3,-5.7],[0.7,-7.5],[-0.9,-9.4],[-0.3,-9.7],[0.0,-10.4],[0.6,-11.8],[1.5,-10.8],[1.5,-4.4]]
];
const naaSnr25More = [
  [[-1.4,0.4],[-1.1,0.2],[-0.8,-0.8],[-0.5,0.7],[-0.2,-0.3],[0.1,1.2],[0.4,0.4],[0.7,-0.6],[1.0,0.8],[1.3,0.3],[-0.6,-1.0],[0.2,-0.1],[0.9,-1.3],[-1.2,-1.2],[1.5,0.2]],
  [[-1.1,1.9],[-0.5,1.2],[0.2,2.0],[0.8,1.1],[1.5,1.7],[-1.3,-0.3],[-0.2,0.6],[0.5,-0.4],[1.1,-1.0],[-0.8,-1.2],[0.6,-1.2],[-0.5,-2.9]],
  [[-1.1,2.5],[0.0,2.3],[0.9,2.7],[-1.4,0.5],[-0.3,0.7],[0.5,1.0],[1.2,0.4],[-0.9,-1.0],[0.2,-1.2],[1.0,-1.6],[-1.3,-2.2],[-0.2,-3.0],[0.7,-3.5],[1.4,-2.7],[-0.6,-4.0]],
  [[-1.1,4.3],[0.2,4.6],[0.9,3.2],[-0.5,3.5],[1.3,1.8],[-1.3,1.0],[0.4,1.1],[-0.3,-0.5],[1.0,-0.3],[-1.0,-1.8],[0.3,-1.5],[1.2,-2.1],[-0.6,-2.7],[0.6,-3.1],[-1.3,-3.4],[0.0,-3.6],[1.4,-4.0],[-0.4,-5.2]],
  [[-0.7,6.1],[0.5,6.3],[1.2,5.0],[-1.3,4.6],[0.1,3.9],[1.3,3.5],[-0.5,2.0],[0.7,1.9],[-1.0,0.7],[0.2,-0.4],[1.2,0.6],[-1.4,-2.1],[-0.2,-1.5],[0.7,-1.3],[1.4,-2.8],[-0.9,-3.4],[0.4,-3.0],[1.1,-3.9],[-1.2,-4.4],[0.8,-4.5]]
];

const gluTicks25 = [-40, -20, 0, 20];
const gluSnr25 = [
  [[-1.2,8.0],[-0.3,11.5],[0.1,11.0],[-1.5,4.0],[-1.0,6.2],[-0.6,3.1],[-0.2,7.4],[0.3,5.0],[0.8,3.7],[1.2,6.6],[1.4,5.3],[1.5,7.0],[-1.4,0.8],[-0.9,1.9],[-0.4,-0.4],[0.0,2.4],[0.5,0.6],[1.0,1.8],[1.3,-0.9],[-1.3,-2.7],[-0.8,-3.9],[-0.2,-1.5],[0.2,-3.1],[0.7,-2.0],[1.1,-4.5],[-1.5,-5.8],[-1.1,-7.1],[-0.5,-5.2],[0.4,-6.3],[0.9,-7.9],[1.5,-6.0],[-0.7,-9.6],[-0.4,-11.2],[0.2,-9.0],[-1.2,-3.5],[0.6,4.2],[-0.1,-7.0],[1.4,1.2],[-0.6,-0.8],[0.8,-5.0],[-1.0,2.8],[0.3,9.6]],
  [[-0.2,16.8],[0.4,14.5],[0.2,12.0],[-1.0,10.2],[-1.4,8.5],[-0.6,8.8],[0.8,9.4],[1.3,9.9],[-1.3,5.5],[-0.8,6.6],[0.0,7.2],[0.6,4.9],[1.2,6.2],[-1.5,3.0],[-0.4,2.0],[0.3,1.1],[1.0,2.5],[-1.1,-0.6],[-0.5,-1.3],[0.1,-0.2],[0.7,-2.0],[1.4,-0.5],[-1.4,-3.9],[-0.9,-5.1],[-0.1,-4.7],[0.5,-6.1],[1.2,-5.5],[-1.3,-7.5],[-0.6,-8.0],[0.2,-8.9],[0.9,-9.6],[1.4,-7.1],[-1.5,-10.7],[-0.9,-12.4],[-0.3,-11.3],[0.4,-13.5],[1.0,-10.5],[-1.4,-15.5],[-0.7,-14.9],[0.0,-16.1],[0.8,-15.0],[1.4,-17.6],[-1.3,-18.3],[-1.3,-20.4],[-0.3,-21.4],[-0.5,-22.6],[0.7,-12.0],[-0.8,0.5]],
  [[-1.1,22.2],[-1.0,19.6],[0.2,17.7],[1.1,14.5],[-1.5,13.4],[-1.1,14.6],[-0.7,12.0],[-0.3,9.9],[0.5,10.8],[1.2,9.4],[-1.4,8.0],[-0.9,7.1],[0.1,6.4],[0.9,5.8],[1.4,4.1],[-1.2,2.9],[-0.5,1.3],[0.3,2.2],[1.0,0.5],[-1.5,-1.0],[-0.8,-2.5],[0.0,-1.4],[0.6,-3.2],[1.3,-2.1],[-1.3,-4.9],[-0.6,-6.3],[0.2,-5.0],[0.9,-7.4],[1.5,-4.1],[-1.0,-9.2],[-0.3,-10.6],[0.4,-8.5],[1.1,-11.3],[-1.4,-13.5],[-0.8,-15.0],[0.0,-13.9],[0.7,-16.5],[1.2,-14.6],[-1.2,-17.4],[-0.4,-18.9],[0.4,-20.3],[1.0,-17.9],[-1.5,-16.3],[-0.9,-21.2],[0.7,-20.5],[1.4,-19.0],[0.2,-25.7],[1.0,-35.2],[0.2,-41.8],[-0.2,2.0],[0.6,-11.9]],
  [[-1.2,26.2],[1.3,25.0],[-1.1,17.8],[0.4,18.9],[1.0,17.5],[0.6,16.2],[-1.3,11.6],[-0.7,13.2],[0.1,14.1],[1.2,12.7],[-1.4,7.6],[-0.4,5.5],[0.3,8.0],[0.9,6.2],[1.5,3.8],[-1.2,2.0],[-0.6,3.4],[0.2,1.4],[0.7,-0.5],[1.3,0.4],[-1.5,-2.3],[-0.9,-4.1],[-0.1,-2.7],[0.5,-5.6],[1.1,-3.6],[-1.3,-6.9],[-0.6,-8.3],[0.1,-7.2],[0.8,-9.9],[1.4,-8.1],[-1.1,-11.4],[-0.3,-13.6],[0.4,-10.9],[1.0,-13.0],[-1.4,-15.7],[-0.8,-17.2],[0.0,-16.1],[0.7,-18.3],[1.3,-15.2],[-1.5,-18.9],[-1.2,-21.1],[-0.5,-20.9],[0.3,-22.4],[1.1,-20.6],[-1.0,-24.3],[-0.3,-24.6],[1.0,-27.0],[-1.2,-36.5],[0.5,-36.5],[0.9,-37.0],[0.2,-41.4],[-0.2,-47.2],[-0.4,9.5]],
  [[0.0,28.9],[0.2,24.3],[1.2,24.3],[1.5,20.2],[-1.2,13.6],[-0.6,12.3],[0.7,12.9],[1.1,14.5],[-1.5,8.9],[-1.0,7.4],[-0.2,10.2],[0.4,7.9],[1.3,9.3],[-1.4,3.5],[-0.7,2.1],[0.1,4.6],[0.9,1.9],[1.5,3.4],[-1.2,-0.6],[-0.4,-2.0],[0.3,-1.4],[1.0,-3.3],[-1.5,-5.0],[-0.8,-6.3],[0.0,-4.7],[0.6,-7.6],[1.4,-6.0],[-1.3,-9.4],[-0.6,-10.6],[0.2,-11.7],[0.9,-9.0],[1.4,-12.3],[-1.5,-13.9],[-1.0,-15.0],[-0.3,-13.6],[0.5,-15.8],[1.2,-17.2],[-1.4,-19.5],[-0.8,-18.3],[0.0,-20.5],[0.7,-19.1],[1.5,-22.4],[-1.2,-23.1],[-0.5,-22.0],[0.3,-24.8],[1.0,-23.9],[-1.3,-26.8],[-0.7,-27.2],[0.8,-28.9],[-0.1,-31.4],[0.7,-31.5],[1.5,-35.7],[1.7,-39.5],[0.0,-45.7],[-1.1,11.8],[0.5,-0.2]]
];
const gluSnr25More = [
  [[-1.3,3.6],[-0.9,5.5],[-0.5,1.0],[-0.1,4.2],[0.4,2.8],[0.9,0.6],[1.3,3.2],[-1.1,-1.2],[-0.6,-2.4],[0.0,-0.3],[0.6,-4.0],[1.1,-2.4],[-1.4,-4.5],[-0.3,-5.7],[0.3,0.8]],
  [[-1.2,12.1],[0.7,11.1],[-0.9,3.4],[0.5,6.5],[1.3,4.0],[-0.3,-2.8],[0.9,-0.6],[-1.0,-7.9],[0.2,-5.5],[1.1,-11.8],[-0.5,-15.8],[0.6,-17.3]],
  [[-1.3,17.0],[0.7,13.1],[-0.5,7.8],[1.1,8.9],[-1.1,4.9],[0.4,-0.3],[1.4,-1.0],[-0.9,-5.9],[0.6,-6.5],[1.2,-8.9],[-1.5,-9.8],[0.1,-10.3],[-0.7,-12.4],[0.9,-15.2],[-0.1,-18.0]],
  [[-0.8,19.2],[0.9,11.1],[-1.3,6.2],[0.1,10.4],[1.2,7.0],[-0.8,0.6],[0.4,-1.0],[1.4,-3.8],[-1.2,-9.6],[-0.2,-5.6],[0.9,-6.9],[-0.9,-12.8],[0.5,-14.0],[1.1,-10.3],[-1.4,-14.3],[0.2,-19.1],[-0.6,-15.0],[1.3,-21.5]],
  [[-1.3,12.5],[0.5,11.7],[-0.8,6.3],[1.0,5.7],[-1.0,2.2],[0.4,1.0],[1.4,-0.8],[-0.6,-4.2],[0.8,-5.3],[-1.5,-8.6],[-0.2,-8.0],[1.2,-10.2],[-0.8,-12.3],[0.3,-13.8],[1.0,-15.5],[-1.2,-17.6],[0.6,-21.8],[1.3,-19.6],[-0.4,-25.9],[1.4,-27.8]]
];

// ---------------------------------------------------------------
// Drawing
// ---------------------------------------------------------------
const svg = d3.select("#fig");
const condensed = "'Liberation Sans Narrow','DejaVu Sans Condensed','Arial Narrow',sans-serif";
const sans = "'Liberation Sans',Arial,sans-serif";
const colors = { baseline: "#3fdede", residual: "#b9b9b9", spectrum: "#000", fit: "#e8201c" };

function condensedText(str, x, y, size, len, fill, rotate) {
  const t = svg.append("text")
    .attr("x", x).attr("y", y)
    .attr("text-anchor", "middle")
    .style("font-family", condensed)
    .style("font-weight", "bold")
    .style("font-size", size + "px")
    .attr("fill", fill)
    .attr("textLength", len)
    .attr("lengthAdjust", "spacingAndGlyphs")
    .text(str);
  if (rotate) t.attr("transform", `rotate(-90,${x},${y})`);
  return t;
}

// column headings
const titleX = [237, 610, 1034, 1397];
const titleLen = [115, 144, 248, 101];
columnTitles.forEach((s, i) => condensedText(s, titleX[i], 39, 31, titleLen[i], "#333"));
const subLen = [0, 188, 332, 0];
const subX = [0, 616, 1039, 0];
columnSubtitles.forEach((s, i) => { if (s) condensedText(s, subX[i], 61, 17, subLen[i], "#bdbdbd"); });

// row headings (rotated)
condensedText(rowLabels[0], 37, 233, 31, 177, "#333", true);
condensedText(rowLabels[1], 37, 577, 31, 173, "#333", true);

// panel letters
const letterPos = [[73,109],[410,112],[833,112],[1227,112],[77,452],[412,453],[833,453],[1229,453]];
panelLetters.forEach((l, i) => svg.append("text")
  .attr("x", letterPos[i][0]).attr("y", letterPos[i][1])
  .style("font-family", sans).style("font-weight", "bold").style("font-size", "38px")
  .attr("fill", "#333").text(l));

function styleAxis(g) {
  g.select(".domain").attr("stroke", "#aaa").attr("stroke-width", 1.2);
  g.selectAll(".tick line").attr("stroke", "#aaa");
  g.selectAll(".tick text").attr("fill", "#555").style("font-family", sans).style("font-size", "14px");
}

// ---------- spectrum panels ----------
function spectrumPanel(opt) {
  const x = d3.scaleLinear().domain([4.8, 1.6]).range([155, 351]);
  const y = d3.scaleLinear().domain([0, 100]).range([opt.base, opt.top]);
  const g = svg.append("g");

  // residual
  const rn = opt.resHi.length;
  const rppm = i => 4.8 - i * 3.2 / (rn - 1);
  if (opt.resFill) {
    g.append("path")
      .attr("d", d3.area().x((d, i) => x(rppm(i))).y0((d, i) => y(opt.resLo[i])).y1(d => y(d))(opt.resHi))
      .attr("fill", "#c4c4c4");
  }
  let zz = "";
  opt.resHi.forEach((h, i) => {
    const a = i % 2 ? opt.resLo[i] : h, b = i % 2 ? h : opt.resLo[i];
    zz += (i ? "L" : "M") + x(rppm(i)) + "," + y(a) + "L" + x(rppm(i)) + "," + y(b);
  });
  g.append("path").attr("d", zz).attr("fill", "none")
    .attr("stroke", opt.resFill ? "#a8a8a8" : colors.residual).attr("stroke-width", opt.resFill ? 0.7 : 1);

  // spectrum
  if (opt.band) {
    g.append("path")
      .attr("d", d3.area().x(d => x(d[0])).y0(d => y(d[1])).y1(d => y(d[2])).curve(d3.curveMonotoneX)(opt.band))
      .attr("fill", colors.spectrum);
    let bz = "";
    opt.band.forEach((d, i) => {
      const a = i % 2 ? d[1] : d[2], b = i % 2 ? d[2] : d[1];
      bz += (i ? "L" : "M") + x(d[0]) + "," + y(a) + "L" + x(d[0]) + "," + y(b);
    });
    g.append("path").attr("d", bz).attr("fill", "none").attr("stroke", "#000").attr("stroke-width", 1);
  } else {
    g.append("path")
      .attr("d", d3.line().x(d => x(d[0])).y(d => y(d[1])).curve(d3.curveMonotoneX)(opt.fit))
      .attr("fill", "none").attr("stroke", colors.spectrum).attr("stroke-width", 3);
  }

  // fit
  g.append("path")
    .attr("d", d3.line().x(d => x(d[0])).y(d => y(d[1])).curve(d3.curveMonotoneX)(opt.fit))
    .attr("fill", "none").attr("stroke", colors.fit).attr("stroke-width", 1.7);

  // baseline
  g.append("line").attr("x1", x(4.8)).attr("x2", x(1.6)).attr("y1", y(0) + 0.5).attr("y2", y(0) + 0.5)
    .attr("stroke", colors.baseline).attr("stroke-width", 2);

  // axis
  const ax = g.append("g").attr("transform", `translate(0,${opt.axisY})`)
    .call(d3.axisBottom(x).tickValues(ppmTicks).tickSize(3).tickPadding(opt.pad).tickSizeOuter(0).tickFormat(d => String(d)));
  styleAxis(ax);
  g.append("text").attr("x", 273).attr("y", opt.titleY).attr("text-anchor", "middle")
    .style("font-family", sans).style("font-weight", "bold").style("font-size", "14px")
    .text("Frequency (ppm)");

  // legend
  const lc = [colors.baseline, colors.residual, colors.spectrum, colors.fit];
  legendLabels.forEach((s, i) => {
    const ly = opt.legendY[i];
    g.append("line").attr("x1", 153).attr("x2", 176).attr("y1", ly).attr("y2", ly)
      .attr("stroke", lc[i]).attr("stroke-width", 2);
    g.append("text").attr("x", 182).attr("y", ly + 5)
      .style("font-family", sans).style("font-style", "italic").style("font-size", "14px")
      .attr("fill", "#555").text(s);
  });

  // note
  fitNote.forEach((s, i) => g.append("text").attr("x", 247).attr("y", opt.noteY[i])
    .style("font-family", condensed).style("font-weight", "bold").style("font-size", "12.5px")
    .attr("textLength", i ? 66 : 55).attr("lengthAdjust", "spacingAndGlyphs")
    .attr("fill", "#111").text(s));
}

spectrumPanel({ fit: fitSnr200, resHi: residualSnr200Hi, resLo: residualSnr200Lo, resFill: false,
  base: 308.5, top: 90, axisY: 337, pad: 6, titleY: 375,
  legendY: [146, 160, 173, 188], noteY: [105, 118.5] });
spectrumPanel({ fit: fitSnr25, band: spectrumSnr25, resHi: residualSnr25Hi, resLo: residualSnr25Lo, resFill: true,
  base: 635, top: 460, axisY: 674, pad: 7, titleY: 713,
  legendY: [482, 496, 510, 525], noteY: [459, 472.5] });

// ---------- scatter panels ----------
function scatterPanel(opt) {
  const f = opt.frame;
  const x = d3.scaleLinear().domain([7.6, 32.2]).range([f.l, f.r]);
  const y = d3.scaleLinear().domain(opt.yDomain).range([f.b, f.t]);
  const g = svg.append("g");

  const ax = g.append("g").attr("transform", `translate(0,${f.b})`)
    .call(d3.axisBottom(x).tickValues(fwhmLevels).tickSize(4).tickPadding(opt.xPad).tickSizeOuter(0).tickFormat(d => String(d)));
  styleAxis(ax);
  const ay = g.append("g").attr("transform", `translate(${f.l},0)`)
    .call(d3.axisLeft(y).tickValues(opt.yTicks).tickSize(4).tickPadding(7).tickSizeOuter(0).tickFormat(d => String(d)));
  styleAxis(ay);

  const groups = opt.data.map((grp, gi) => grp.concat(opt.more[gi]));
  groups.forEach((grp, gi) => {
    g.selectAll(null).data(grp).join("circle")
      .attr("cx", d => x(fwhmLevels[gi] + d[0]))
      .attr("cy", d => y(d[1]))
      .attr("r", 2.1)
      .attr("fill", "#000");
  });

  g.append("line").attr("x1", f.l).attr("x2", f.r).attr("y1", y(0)).attr("y2", y(0))
    .attr("stroke", "#f0504c").attr("stroke-width", 1.6).attr("stroke-dasharray", "7,5").attr("opacity", 0.9);

  g.append("text").attr("x", x(20) + opt.xTitleShift).attr("y", opt.xTitleY).attr("text-anchor", "middle")
    .style("font-family", sans).style("font-weight", "bold").style("font-size", "14px").text("FWHM (Hz)");
  const yc = (f.t + f.b) / 2;
  g.append("text").attr("transform", `translate(${opt.yTitleX},${yc}) rotate(-90)`).attr("text-anchor", "middle")
    .style("font-family", sans).style("font-weight", "bold").style("font-size", "14px").text("Relative error (%)");
}

scatterPanel({ data: tcrSnr200, more: tcrSnr200More, yTicks: tcrTicks200, yDomain: [-6.3, 6.15], frame: { l: 480, r: 748, t: 160, b: 336 }, xPad: 10, xTitleY: 383, xTitleShift: 0, yTitleX: 440 });
scatterPanel({ data: naaSnr200, more: naaSnr200More, yTicks: naaTicks200, yDomain: [-3.35, 2.39], frame: { l: 882, r: 1151, t: 158, b: 336 }, xPad: 10, xTitleY: 383, xTitleShift: 0, yTitleX: 842 });
scatterPanel({ data: gluSnr200, more: gluSnr200More, yTicks: gluTicks200, yDomain: [-15.5, 15.7], frame: { l: 1267, r: 1533, t: 160, b: 337 }, xPad: 10, xTitleY: 383, xTitleShift: 0, yTitleX: 1220 });
scatterPanel({ data: tcrSnr25, more: tcrSnr25More, yTicks: tcrTicks25, yDomain: [-23.9, 25.5], frame: { l: 485, r: 752, t: 498, b: 676 }, xPad: 11, xTitleY: 719, xTitleShift: 7, yTitleX: 443 });
scatterPanel({ data: naaSnr25, more: naaSnr25More, yTicks: naaTicks25, yDomain: [-12.7, 9.2], frame: { l: 881, r: 1147, t: 498, b: 676 }, xPad: 11, xTitleY: 719, xTitleShift: 7, yTitleX: 840 });
scatterPanel({ data: gluSnr25, more: gluSnr25More, yTicks: gluTicks25, yDomain: [-50, 32], frame: { l: 1268, r: 1535, t: 498, b: 676 }, xPad: 11, xTitleY: 719, xTitleShift: 7, yTitleX: 1227 });
</script>
</body>
</html>
